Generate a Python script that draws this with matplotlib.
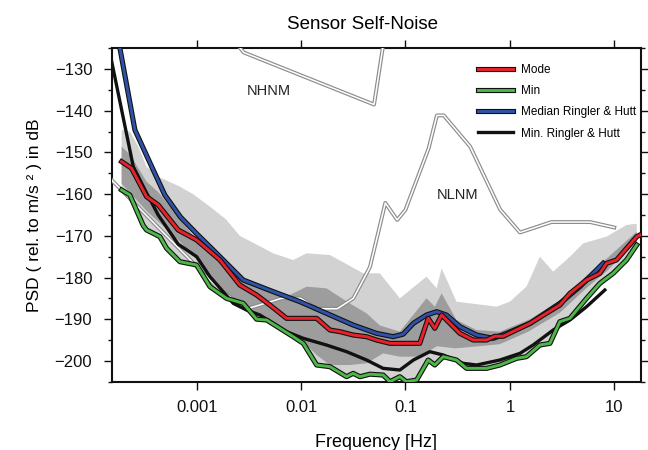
import numpy as np
import matplotlib
matplotlib.use('Agg')
import matplotlib.pyplot as plt
import matplotlib.patheffects as pe
from matplotlib.lines import Line2D
from matplotlib.ticker import FixedLocator, FixedFormatter, MultipleLocator, NullLocator

plt.rcParams['font.family'] = ['Liberation Sans', 'DejaVu Sans']

# ---------------- data (frequency in Hz, PSD in dB) ----------------
mode_f = [1.91e-4, 2.38e-4, 3.31e-4, 4.28e-4, 6.65e-4, 1.0e-3, 1.67e-3, 2.59e-3, 3.75e-3, 5.02e-3,
          7.26e-3, 0.0141, 0.0189, 0.0236, 0.0315, 0.0424, 0.0528, 0.071, 0.137, 0.165, 0.191,
          0.222, 0.332, 0.445, 0.598, 0.718, 0.863, 1.56, 3.01, 3.76, 5.43, 7.28, 8.43, 10.5, 16.4, 17.6]
mode_db = [-152.2, -153.8, -160.6, -162.6, -168.6, -171.0, -175.8, -181.8, -184.2, -186.6,
           -189.8, -189.8, -192.6, -193.0, -193.8, -194.2, -195.0, -195.8, -195.8, -189.8, -192.2,
           -189.0, -193.4, -195.0, -195.0, -194.1, -194.1, -191.0, -186.6, -183.8, -180.6, -179.0, -176.6, -175.8, -170.2, -169.8]

min_f = [1.91e-4, 2.29e-4, 3.07e-4, 3.31e-4, 4.44e-4, 5.15e-4, 6.9e-4, 9.98e-4, 1.34e-3, 1.93e-3,
         2.79e-3, 3.75e-3, 4.68e-3, 8.4e-3, 0.0105, 0.0141, 0.0189, 0.0273, 0.0315, 0.0366, 0.0456,
         0.0611, 0.071, 0.0883, 0.102, 0.128, 0.165, 0.191, 0.230, 0.308, 0.385, 0.598, 0.802, 1.16,
         1.44, 1.94, 2.42, 3.01, 3.76, 5.43, 7.28, 9.76, 13.1, 16.4]
min_db = [-159.0, -160.2, -167.5, -168.6, -170.2, -173.0, -176.2, -177.0, -182.2, -185.0,
          -186.2, -190.0, -190.2, -194.2, -195.8, -201.0, -201.4, -203.8, -203.0, -203.8, -203.2,
          -203.4, -205.0, -203.8, -205.0, -204.6, -199.8, -201.0, -199.0, -199.8, -201.8, -201.8, -201.0, -199.4,
          -199.0, -196.2, -195.8, -190.6, -189.8, -185.0, -181.4, -179.0, -175.8, -172.2]

med_rh_f = [1.6e-4, 1.84e-4, 2.56e-4, 3.57e-4, 4.95e-4, 7.0e-4, 1.0e-3, 1.44e-3, 2.79e-3, 5.41e-3,
            9.75e-3, 0.0175, 0.0315, 0.0528, 0.0762, 0.095, 0.119, 0.159, 0.199, 0.247, 0.332, 0.48,
            0.692, 0.929, 1.56, 3.01, 4.68, 7.83]
med_rh_db = [-115.0, -125.0, -144.6, -152.5, -160.2, -165.5, -169.5, -173.4, -180.6, -183.4,
             -185.8, -188.6, -191.4, -193.4, -194.2, -193.6, -191.0, -189.0, -188.2, -189.0, -191.8, -193.8,
             -194.6, -193.4, -191.0, -186.2, -182.2, -176.6]

min_rh_f = [1.5e-4, 2.47e-4, 3.2e-4, 4.28e-4, 6.65e-4, 9.98e-4, 1.34e-3, 1.79e-3, 2.24e-3, 3.0e-3,
            4.03e-3, 5.41e-3, 7.26e-3, 0.0105, 0.0175, 0.0273, 0.0424, 0.0611, 0.0883, 0.119, 0.171,
            0.230, 0.357, 0.48, 0.802, 1.25, 1.67, 2.6, 3.76, 5.43, 8.12]
min_rh_db = [-127.0, -153.4, -159.0, -165.0, -172.0, -175.0, -179.8, -183.4, -186.2, -187.8,
             -189.0, -191.0, -193.0, -194.6, -196.2, -197.8, -199.8, -201.8, -202.2, -199.8, -197.8,
             -198.6, -200.6, -201.0, -199.8, -198.2, -196.2, -192.6, -190.2, -187.0, -183.0]

# light grey band: upper edge (lower edge is the Min curve)
light_up_f = [1.91e-4, 2.3e-4, 2.75e-4, 3.31e-4, 4.44e-4, 6.9e-4, 9.24e-4, 1.34e-3, 1.9e-3, 2.59e-3,
              5.41e-3, 8.4e-3, 0.0113, 0.0189, 0.0394, 0.0568, 0.0883, 0.159, 0.199, 0.222, 0.308,
              0.746, 1.0, 1.44, 1.94, 2.6, 3.76, 5.04, 8.43, 13.1, 16.4]
light_up_db = [-144.6, -145.0, -148.5, -153.4, -156.0, -158.2, -160.0, -163.0, -166.0, -170.0,
               -174.2, -175.8, -174.2, -174.6, -179.0, -179.0, -185.0, -179.8, -182.6, -177.8, -185.8,
               -187.0, -185.8, -182.2, -175.0, -178.6, -175.0, -171.8, -170.2, -167.4, -167.1]

# dark grey band
dark_up_f = [1.91e-4, 2.3e-4, 3.31e-4, 4.28e-4, 6.65e-4, 1.06e-3, 1.67e-3, 2.59e-3, 4.68e-3, 7.26e-3,
             0.0113, 0.0175, 0.0292, 0.0424, 0.0568, 0.0883, 0.159, 0.191, 0.222, 0.308, 0.48, 0.8,
             1.56, 3.01, 5.43, 8.43, 16.4]
dark_up_db = [-148.6, -150.5, -157.0, -159.5, -165.5, -171.8, -175.0, -179.8, -183.0, -184.6,
              -182.2, -182.6, -186.2, -188.6, -191.5, -193.0, -185.0, -187.0, -183.8, -190.2, -192.6, -193.0,
              -190.0, -185.5, -179.5, -175.5, -169.0]
dark_lo_f = [1.91e-4, 3.31e-4, 6.65e-4, 1.0e-3, 1.34e-3, 2.24e-3, 4.03e-3, 7.26e-3, 0.0105, 0.0141,
             0.0189, 0.0292, 0.0424, 0.0611, 0.0883, 0.137, 0.2, 0.3, 0.5, 0.8, 1.5, 3.0, 5.43, 8.43, 16.4]
dark_lo_db = [-157.5, -164.0, -171.0, -175.5, -180.0, -186.2, -189.0, -193.0, -195.5, -198.6,
              -201.0, -201.0, -200.6, -198.2, -199.0, -199.0, -196.5, -197.0, -196.5, -196.0, -193.0, -188.5,
              -182.5, -178.5, -171.5]

# Peterson noise models (breakpoints)
nlnm_f = [1.0e-4, 1.667e-3, 3.049e-3, 6.494e-3, 9.901e-3, 0.01429, 0.02222, 0.03165, 0.04566, 0.0641,
          0.0833, 0.1, 0.1667, 0.2, 0.2326, 0.4167, 0.8065, 1.25, 2.5, 5.882, 10.0]
nlnm_db = [-151.9, -183.0, -187.5, -185.0, -185.0, -187.5, -187.5, -185.0, -177.5, -162.1,
           -166.2, -163.75, -149.0, -141.1, -141.1, -148.6, -163.7, -169.2, -166.7, -166.7, -168.0]
nhnm_f = [1.0e-3, 2.818e-3, 0.05, 0.0649]
nhnm_db = [-111.8, -126.0, -138.5, -120.0]

x_ticks = [0.001, 0.01, 0.1, 1, 10]
x_ticklabels = ['0.001', '0.01', '0.1', '1', '10']
y_ticks = [-130, -140, -150, -160, -170, -180, -190, -200]
legend_labels = ['Mode', 'Min', 'Median Ringler & Hutt', 'Min. Ringler & Hutt']

# ---------------- plot ----------------
fig = plt.figure(figsize=(6.48, 4.5), dpi=100)
ax = fig.add_axes([0.1724, 0.1518, 0.8163, 0.7409])
ax.set_xscale('log')
ax.set_xlim(1.535e-4, 17.9)
ax.set_ylim(-205, -125)

ax.fill(np.concatenate([light_up_f, min_f[::-1]]),
        np.concatenate([light_up_db, min_db[::-1]]), color='#d2d2d2', lw=0, zorder=1)
ax.fill(np.concatenate([dark_up_f, dark_lo_f[::-1]]),
        np.concatenate([dark_up_db, dark_lo_db[::-1]]), color='#9d9d9d', lw=0, zorder=2)

model_pe = [pe.Stroke(linewidth=2.8, foreground='#8c8c8c'), pe.Normal()]
ax.plot(nlnm_f, nlnm_db, color='white', lw=1.1, zorder=3, path_effects=model_pe)
ax.plot(nhnm_f, nhnm_db, color='white', lw=1.1, zorder=3, path_effects=model_pe)

edge = [pe.Stroke(linewidth=3.7, foreground='#111111'), pe.Normal()]
ax.plot(min_rh_f, min_rh_db, color='#111111', lw=2.4, zorder=4)
ax.plot(min_f, min_db, color='#4cb848', lw=2.1, zorder=5, path_effects=edge)
ax.plot(med_rh_f, med_rh_db, color='#2f52a8', lw=2.1, zorder=6, path_effects=edge)
ax.plot(mode_f, mode_db, color='#e8212b', lw=2.1, zorder=7, path_effects=edge)

ax.text(0.00492, -135.2, 'NHNM', fontsize=10.5, ha='center', va='center', color='#222222')
ax.text(0.318, -160.2, 'NLNM', fontsize=10.5, ha='center', va='center', color='#222222')

handles = [
    Line2D([], [], color='#e8212b', lw=2.1, path_effects=edge),
    Line2D([], [], color='#4cb848', lw=2.1, path_effects=edge),
    Line2D([], [], color='#2f52a8', lw=2.1, path_effects=edge),
    Line2D([], [], color='#111111', lw=2.4),
]
leg = ax.legend(handles, legend_labels, loc='upper left', bbox_to_anchor=(0.692, 0.953),
                frameon=False, fontsize=8.5, handlelength=3.0, handletextpad=0.7,
                labelspacing=0.78, borderpad=0, borderaxespad=0)
leg.set_zorder(10)

ax.xaxis.set_major_locator(FixedLocator(x_ticks))
ax.xaxis.set_major_formatter(FixedFormatter(x_ticklabels))
ax.xaxis.set_minor_locator(NullLocator())
ax.set_yticks(y_ticks)
ax.yaxis.set_minor_locator(MultipleLocator(5))

ax.tick_params(which='both', direction='out', top=True, right=True, width=1.0, colors='#111111',
               labelsize=12)
ax.tick_params(which='major', length=6)
ax.tick_params(which='minor', length=3)
ax.tick_params(axis='x', pad=7)
ax.tick_params(axis='y', pad=8)
for s in ax.spines.values():
    s.set_linewidth(1.5)
    s.set_color('#111111')

ax.set_xlabel('Frequency [Hz]', fontsize=13, labelpad=14)
ax.set_ylabel('PSD ( rel. to m/s ² ) in dB', fontsize=12.5, labelpad=9)
fig.text(0.56, 0.945, 'Sensor Self-Noise', fontsize=13.5, ha='center', va='center')

fig.savefig('out.png', dpi=100)
